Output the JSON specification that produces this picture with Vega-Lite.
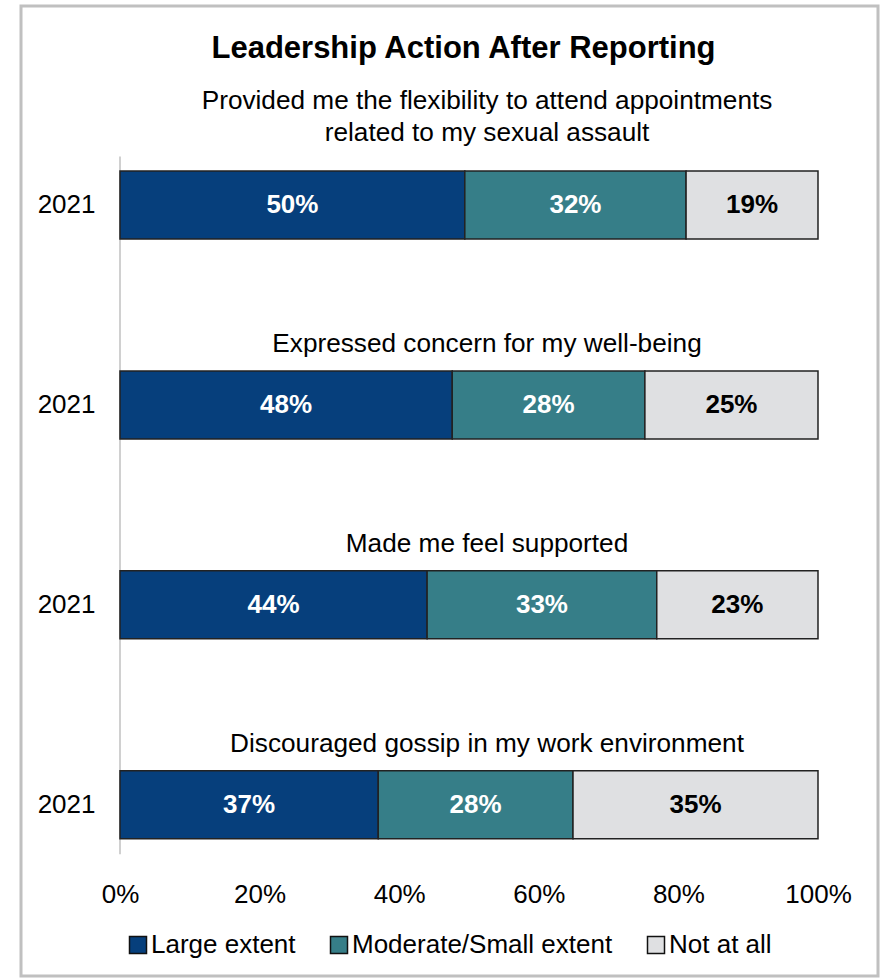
{
  "$schema": "https://vega.github.io/schema/vega-lite/v6.json",
  "autosize": {"type": "none"},
  "padding": {"left": 21, "top": 6, "right": 4, "bottom": 2},
  "width": 857,
  "height": 970,
  "config": {
    "font": "Liberation Sans, Arial, sans-serif",
    "view": {"stroke": "#c0c0c0", "strokeWidth": 3}
  },
  "title": {
    "text": "Leadership Action After Reporting",
    "fontSize": 31,
    "fontWeight": "bold",
    "color": "#000000",
    "anchor": "middle",
    "baseline": "alphabetic",
    "offset": -83,
    "dx": 14
  },
  "data": {
    "values": [
      {"q": 1, "cat": "Large extent", "k": 1, "v": 49.4, "lbl": "50%"},
      {"q": 1, "cat": "Moderate/Small extent", "k": 2, "v": 31.7, "lbl": "32%"},
      {"q": 1, "cat": "Not at all", "k": 3, "v": 18.9, "lbl": "19%"},
      {"q": 2, "cat": "Large extent", "k": 1, "v": 47.6, "lbl": "48%"},
      {"q": 2, "cat": "Moderate/Small extent", "k": 2, "v": 27.6, "lbl": "28%"},
      {"q": 2, "cat": "Not at all", "k": 3, "v": 24.8, "lbl": "25%"},
      {"q": 3, "cat": "Large extent", "k": 1, "v": 44.0, "lbl": "44%"},
      {"q": 3, "cat": "Moderate/Small extent", "k": 2, "v": 32.9, "lbl": "33%"},
      {"q": 3, "cat": "Not at all", "k": 3, "v": 23.1, "lbl": "23%"},
      {"q": 4, "cat": "Large extent", "k": 1, "v": 37.0, "lbl": "37%"},
      {"q": 4, "cat": "Moderate/Small extent", "k": 2, "v": 27.9, "lbl": "28%"},
      {"q": 4, "cat": "Not at all", "k": 3, "v": 35.1, "lbl": "35%"}
    ]
  },
  "layer": [
    {
      "data": {"values": [{}]},
      "mark": {"type": "rule", "color": "#d0d0d0", "strokeWidth": 2},
      "encoding": {
        "x": {"datum": 0, "type": "quantitative"},
        "y": {"datum": 0.757, "type": "quantitative"},
        "y2": {"datum": 4.248}
      }
    },
    {
      "mark": {"type": "bar", "orient": "horizontal", "size": 68, "stroke": "#222222", "strokeWidth": 1.5},
      "encoding": {
        "x": {
          "field": "v",
          "type": "quantitative",
          "stack": "zero",
          "scale": {"domain": [-14.183, 108.596], "nice": false, "zero": false},
          "axis": {
            "title": null,
            "values": [0, 20, 40, 60, 80, 100],
            "labelExpr": "datum.value + '%'",
            "domain": false,
            "ticks": false,
            "tickSize": 0,
            "grid": false,
            "labelPadding": 0,
            "offset": -94.5,
            "labelFontSize": 26,
            "labelColor": "#000000",
            "labelFlush": false
          }
        },
        "y": {
          "field": "q",
          "type": "quantitative",
          "scale": {"domain": [0.0297, 4.8317], "nice": false, "zero": false, "reverse": true},
          "axis": {
            "title": null,
            "values": [1, 2, 3, 4],
            "labelExpr": "'2021'",
            "domain": false,
            "ticks": false,
            "tickSize": 0,
            "grid": false,
            "offset": -99,
            "labelPadding": 25,
            "labelFontSize": 26,
            "labelColor": "#000000",
            "labelFlush": false
          }
        },
        "color": {
          "field": "cat",
          "type": "nominal",
          "scale": {
            "domain": ["Large extent", "Moderate/Small extent", "Not at all"],
            "range": ["#063f7c", "#367e88", "#dfe0e2"]
          },
          "legend": {
            "title": null,
            "orient": "none",
            "direction": "horizontal",
            "legendX": 104,
            "legendY": 926,
            "symbolType": "square",
            "symbolSize": 289,
            "symbolStrokeColor": "#111111",
            "symbolStrokeWidth": 1.5,
            "labelFontSize": 26,
            "labelColor": "#000000",
            "labelOffset": 0,
            "labelLimit": 0,
            "columnPadding": 30,
            "padding": 0
          }
        },
        "order": {"field": "k", "type": "quantitative"}
      }
    },
    {
      "mark": {"type": "text", "fontSize": 26, "fontWeight": "bold", "baseline": "middle", "align": "center"},
      "encoding": {
        "x": {"field": "v", "type": "quantitative", "stack": "zero", "bandPosition": 0.5},
        "y": {"field": "q", "type": "quantitative"},
        "detail": {"field": "cat", "type": "nominal"},
        "order": {"field": "k", "type": "quantitative"},
        "text": {"field": "lbl", "type": "nominal"},
        "color": {
          "condition": {"test": "datum.cat === 'Not at all'", "value": "#000000"},
          "value": "#ffffff"
        }
      }
    },
    {
      "data": {
        "values": [
          {"q": 2, "t": "Expressed concern for my well-being"},
          {"q": 3, "t": "Made me feel supported"},
          {"q": 4, "t": "Discouraged gossip in my work environment"}
        ]
      },
      "mark": {"type": "text", "fontSize": 26.2, "baseline": "bottom", "align": "center", "dy": -47, "color": "#000000"},
      "encoding": {
        "x": {"datum": 52.58, "type": "quantitative"},
        "y": {"field": "q", "type": "quantitative"},
        "text": {"field": "t", "type": "nominal"}
      }
    },
    {
      "data": {
        "values": [
          {"q": 1, "t": "Provided me the flexibility to attend appointments\nrelated to my sexual assault"}
        ]
      },
      "mark": {"type": "text", "fontSize": 26.2, "baseline": "bottom", "align": "center", "lineBreak": "\n", "lineHeight": 32, "dy": -90, "color": "#000000"},
      "encoding": {
        "x": {"datum": 52.58, "type": "quantitative"},
        "y": {"field": "q", "type": "quantitative"},
        "text": {"field": "t", "type": "nominal"}
      }
    }
  ]
}
